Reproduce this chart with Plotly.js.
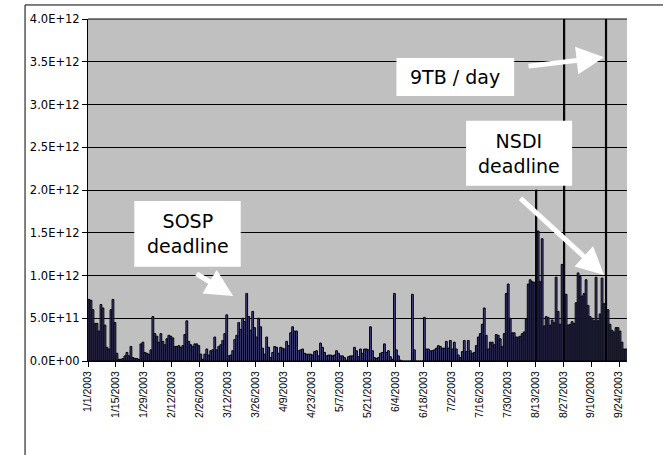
<!DOCTYPE html>
<html>
<head>
<meta charset="utf-8">
<script src="https://cdn.plot.ly/plotly-3.0.1.min.js"></script>
<style>
html,body{margin:0;padding:0;background:#fff;}
#chart{width:663px;height:455px;}
</style>
</head>
<body>
<div id="chart"></div>
<script>
// Daily volume, in units of 1e11 bytes, starting 1/1/2003 (one value per day)
const volumeE11 = [
  7.2, 7.1, 6.0, 4.4, 4.4, 3.5, 6.6, 6.2, 4.2, 1.6, 1.4, 6.0, 7.2, 4.5, 0.9,
  0.2, 0.2, 0.3, 0.6, 1.0, 0.6, 1.7, 0.4, 0.3, 0.3, 0.2, 2.0, 2.2, 1.0, 0.9, 0.8, 1.3,
  5.2, 3.2, 2.9, 2.2, 3.2, 2.3, 1.9, 2.6, 3.0, 2.9,
  2.7, 1.7, 1.7, 1.8, 1.6, 1.8, 3.1, 4.7, 2.3, 1.9, 1.7, 2.0, 2.0, 1.8,
  0.8, 0.2, 0.8, 1.4, 0.7, 1.2, 1.3, 2.8, 1.3, 1.7, 1.9, 2.4, 3.2, 5.4,
  0.6, 0.7, 1.2, 2.5, 3.0, 4.5, 3.7, 5.0, 4.6, 7.9, 5.2, 3.6, 5.8, 3.9,
  2.8, 5.0, 4.0, 1.5, 0.8, 2.8, 1.6, 0.4, 1.0, 1.7, 1.6, 0.9, 1.6, 1.5,
  1.4, 2.3, 1.8, 3.3, 4.0, 3.5, 3.5, 1.2, 1.3, 1.4, 0.9, 0.8, 0.8, 0.8,
  0.7, 1.1, 1.2, 0.6, 2.1, 1.6, 1.0, 0.6, 0.7, 0.7, 0.6, 0.7, 1.2, 0.9,
  0.6, 0.6, 0.4, 0.1, 0.5, 0.6, 0.6, 1.6,
  1.2, 0.5, 1.4, 0.9, 1.4, 1.4, 1.3, 4.0, 1.2, 0.4, 0.3, 0.4, 0.9, 1.0,
  2.0, 1.0, 1.2, 0.5, 0.2, 7.9, 1.3, 0.6, 0.1, 0, 0, 0, 0, 0,
  7.8, 1.3, 0, 0, 0, 0, 5.1, 1.4, 1.4, 1.2, 1.2, 1.3, 1.5, 1.8,
  1.7, 1.5, 1.5, 2.3, 1.5, 2.4, 1.4, 2.2, 1.4, 0.7, 0.4, 1.1, 2.4, 1.1,
  2.4, 1.2, 0.9, 1.0, 1.8, 2.8, 3.2, 4.3, 6.2, 3.0, 1.4, 2.2, 2.2, 1.9,
  3.1, 3.0, 2.6, 1.7, 3.2, 7.9, 9.0, 5.0, 3.3, 3.3, 2.8, 2.8, 2.9, 3.2,
  3.4, 4.9, 9.0, 9.5, 9.3, 9.2, 20.0, 15.2, 9.3, 14.3, 4.1, 5.2, 5.1, 4.2,
  4.8, 4.5, 9.8, 5.8, 4.3, 11.3, 45.0, 7.8, 4.2, 4.3, 4.6, 4.4, 6.8, 10.3,
  9.9, 7.6, 7.9, 9.5, 6.5, 5.2, 5.0, 4.7, 9.8, 4.7, 5.5, 9.7, 6.7, 90.0,
  6.0, 4.3, 3.6, 3.4, 3.9, 3.9, 3.5, 2.2, 1.4, 1.4
];
// Day offsets (from 1/1/2003) of the x tick labels and their text
const tickDays = [0, 14, 28, 42, 56, 70, 84, 98, 112, 126, 140, 154, 168, 182, 196, 210, 224, 238, 252, 266];
const tickLabels = ['1/1/2003','1/15/2003','1/29/2003','2/12/2003','2/26/2003','3/12/2003','3/26/2003',
  '4/9/2003','4/23/2003','5/7/2003','5/21/2003','6/4/2003','6/18/2003','7/2/2003','7/16/2003',
  '7/30/2003','8/13/2003','8/27/2003','9/10/2003','9/24/2003'];
const yTickVals = [0, 5e11, 1e12, 1.5e12, 2e12, 2.5e12, 3e12, 3.5e12, 4e12];
const yTickLabels = ['0.0E+00','5.0E+11','1.0E+12','1.5E+12','2.0E+12','2.5E+12','3.0E+12','3.5E+12','4.0E+12'];

const xs = volumeE11.map((v, i) => i + 0.5);
const ys = volumeE11.map(v => v * 1e11);
// very tall spikes render as plain black strokes in the original
const fills = volumeE11.map(v => v >= 19 ? '#000000' : '#48488e');
const widths = volumeE11.map(v => v >= 19 ? 0.6 : 0.9);

const trace = {
  type: 'bar',
  x: xs,
  y: ys,
  width: widths,
  marker: { color: fills, line: { color: '#000000', width: 1 } },
  hoverinfo: 'skip'
};

const boxFont = { family: 'DejaVu Sans, Arial, sans-serif', size: 19, color: '#000' };

const layout = {
  width: 663,
  height: 455,
  margin: { l: 88, r: 36, t: 19, b: 94, pad: 0 },
  paper_bgcolor: '#ffffff',
  plot_bgcolor: '#c0c0c0',
  showlegend: false,
  bargap: 0,
  xaxis: {
    range: [0, 270],
    tickvals: tickDays,
    ticktext: tickLabels,
    tickangle: -90,
    ticks: 'outside',
    ticklen: 5,
    tickcolor: '#000',
    showgrid: false,
    zeroline: false,
    showline: true,
    linecolor: '#000',
    linewidth: 1,
    tickfont: { family: 'Liberation Sans, Arial, sans-serif', size: 10.5, color: '#000' },
    fixedrange: true
  },
  yaxis: {
    range: [0, 4e12],
    tickvals: yTickVals,
    ticktext: yTickLabels,
    ticks: 'outside',
    ticklen: 5,
    tickcolor: '#000',
    showgrid: true,
    gridcolor: '#000',
    gridwidth: 1,
    zeroline: false,
    showline: true,
    linecolor: '#000',
    linewidth: 1,
    tickfont: { family: 'DejaVu Sans, Arial, sans-serif', size: 11.5, color: '#000' },
    fixedrange: true
  },
  shapes: [
    // outer chart-area frame
    { type: 'rect', xref: 'paper', yref: 'paper', x0: -0.1168, x1: 1.2, y0: -0.35, y1: 1.041,
      line: { color: '#000', width: 1 }, fillcolor: 'rgba(0,0,0,0)', layer: 'below' },
    // top gridline
    { type: 'line', xref: 'paper', yref: 'paper', x0: 0, x1: 1, y0: 1, y1: 1, line: { color: '#000', width: 1 } },
    // white label boxes
    { type: 'rect', xref: 'x', yref: 'y', x0: 154.5, x1: 213.5, y0: 3.099e12, y1: 3.544e12,
      line: { width: 0 }, fillcolor: '#ffffff' },
    { type: 'rect', xref: 'x', yref: 'y', x0: 189.4, x1: 242.5, y0: 2.05e12, y1: 2.811e12,
      line: { width: 0 }, fillcolor: '#ffffff' },
    { type: 'rect', xref: 'x', yref: 'y', x0: 23.2, x1: 76.5, y0: 1.103e12, y1: 1.871e12,
      line: { width: 0 }, fillcolor: '#ffffff' }
  ],
  annotations: [
    { x: 184, y: 3.32e12, xref: 'x', yref: 'y', text: '9TB / day', showarrow: false, font: boxFont },
    { x: 216, y: 2.43e12, xref: 'x', yref: 'y', text: 'NSDI<br>deadline', showarrow: false, font: boxFont },
    { x: 49.9, y: 1.487e12, xref: 'x', yref: 'y', text: 'SOSP<br>deadline', showarrow: false, font: boxFont },
    { x: 258.5, y: 3.552e12, xref: 'x', yref: 'y', text: '', showarrow: true, ax: -77, ay: 9,
      arrowcolor: '#ffffff', arrowwidth: 5, arrowhead: 2, arrowsize: 1.1 },
    { x: 258.5, y: 1.006e12, xref: 'x', yref: 'y', text: '', showarrow: true, ax: -85, ay: -78,
      arrowcolor: '#ffffff', arrowwidth: 5, arrowhead: 2, arrowsize: 1.1 },
    { x: 72.7, y: 0.76e12, xref: 'x', yref: 'y', text: '', showarrow: true, ax: -38, ay: -23,
      arrowcolor: '#ffffff', arrowwidth: 5, arrowhead: 2, arrowsize: 1.1 }
  ]
};

Plotly.newPlot('chart', [trace], layout, { displayModeBar: false, staticPlot: true });
</script>
</body>
</html>
